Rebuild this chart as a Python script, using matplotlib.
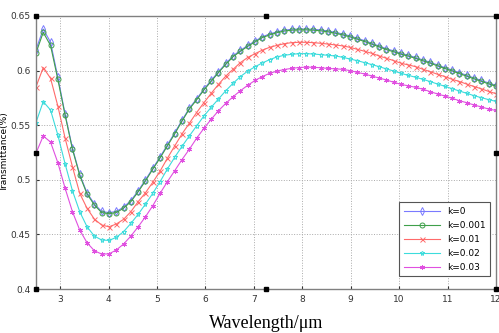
import numpy as np
import matplotlib
matplotlib.use("Agg")
import matplotlib.pyplot as plt
from matplotlib.ticker import FormatStrFormatter

# wavelength grid (um), 64 samples from 2.5 to 12
wavelength = np.linspace(2.5, 12, 64)

t_k0 = [0.619, 0.638, 0.626, 0.594, 0.560, 0.529, 0.505, 0.488, 0.478, 0.471,
        0.470, 0.471, 0.475, 0.481, 0.490, 0.500, 0.5105, 0.521, 0.532, 0.543,
        0.5545, 0.5655, 0.574, 0.583, 0.591, 0.599, 0.6065, 0.6135, 0.6185, 0.623,
        0.627, 0.631, 0.6335, 0.6355, 0.637, 0.6378, 0.6381, 0.6381, 0.6378, 0.6372,
        0.6363, 0.635, 0.6335, 0.6317, 0.6296, 0.6274, 0.625, 0.6225, 0.620, 0.618,
        0.6158, 0.614, 0.612, 0.6097, 0.6076, 0.6051, 0.6027, 0.6005, 0.598, 0.5957,
        0.5932, 0.591, 0.5886, 0.5865]

t_k001 = [0.616, 0.635, 0.623, 0.592, 0.559, 0.528, 0.504, 0.487, 0.477, 0.470,
          0.469, 0.470, 0.474, 0.480, 0.489, 0.499, 0.5097, 0.520, 0.531, 0.542,
          0.5537, 0.5647, 0.5732, 0.5822, 0.5902, 0.5982, 0.6057, 0.6127, 0.6177, 0.6222,
          0.6262, 0.6302, 0.6327, 0.6347, 0.6362, 0.637, 0.6373, 0.6373, 0.637, 0.6364,
          0.6355, 0.6342, 0.6327, 0.6309, 0.6288, 0.6266, 0.6242, 0.6217, 0.6192, 0.6172,
          0.615, 0.6132, 0.6112, 0.6089, 0.6068, 0.6043, 0.6019, 0.5997, 0.5972, 0.5949,
          0.5924, 0.5902, 0.5878, 0.5857]

t_k01 = [0.585, 0.6027, 0.593, 0.5676, 0.538, 0.512, 0.4876, 0.4739, 0.4641, 0.4586,
         0.457, 0.4595, 0.4638, 0.4708, 0.480, 0.4882, 0.4977, 0.508, 0.5197, 0.531,
         0.542, 0.5517, 0.5615, 0.5706, 0.5792, 0.5874, 0.595, 0.6012, 0.6073, 0.612,
         0.6155, 0.6187, 0.6213, 0.6231, 0.6246, 0.6256, 0.6259, 0.6259, 0.6256, 0.625,
         0.6243, 0.6235, 0.6226, 0.6213, 0.6195, 0.6177, 0.6158, 0.6134, 0.6113, 0.6091,
         0.6067, 0.6052, 0.6036, 0.6012, 0.599, 0.5966, 0.5945, 0.592, 0.590, 0.5876,
         0.5854, 0.5833, 0.5809, 0.5789]

t_k02 = [0.5523, 0.5716, 0.5639, 0.541, 0.5145, 0.490, 0.4708, 0.457, 0.4485, 0.4449,
         0.4445, 0.4473, 0.4525, 0.4601, 0.4684, 0.4778, 0.4876, 0.4983, 0.5099, 0.5206,
         0.5306, 0.5401, 0.5493, 0.5584, 0.5664, 0.574, 0.5816, 0.5884, 0.5945, 0.5995,
         0.6035, 0.607, 0.610, 0.6125, 0.614, 0.6149, 0.6155, 0.6155, 0.6152, 0.6146,
         0.614, 0.6134, 0.6122, 0.6106, 0.6091, 0.6073, 0.6055, 0.6036, 0.6015, 0.5996,
         0.5975, 0.5956, 0.5939, 0.592, 0.5899, 0.5877, 0.5856, 0.5834, 0.5813, 0.5792,
         0.577, 0.5752, 0.5734, 0.5718]

t_k03 = [0.5243, 0.5401, 0.5346, 0.5157, 0.4922, 0.4708, 0.454, 0.4424, 0.4351, 0.432,
         0.4322, 0.4357, 0.4412, 0.4485, 0.457, 0.4662, 0.4763, 0.4876, 0.4983, 0.5083,
         0.5185, 0.5279, 0.538, 0.5471, 0.5554, 0.5633, 0.570, 0.5761, 0.5816, 0.5865,
         0.591, 0.5945, 0.5975, 0.5995, 0.601, 0.602, 0.6028, 0.6032, 0.603, 0.6026,
         0.602, 0.6016, 0.6012, 0.600, 0.5984, 0.5969, 0.595, 0.5932, 0.5914, 0.5893,
         0.5874, 0.586, 0.5847, 0.5829, 0.5807, 0.5786, 0.5767, 0.5746, 0.5724, 0.5706,
         0.5685, 0.5667, 0.5648, 0.5635]

labels = ["k=0", "k=0.001", "k=0.01", "k=0.02", "k=0.03"]
series = [t_k0, t_k001, t_k01, t_k02, t_k03]
colors = ["#7a7aff", "#3fa04a", "#ff6a6a", "#3cdcdc", "#e050e0"]
markers = ["d", "o", "x", "*", (6, 2, 0)]

fig = plt.figure(figsize=(4.99, 3.33), dpi=100)
ax = fig.add_axes([0.072, 0.132, 0.922, 0.820])

for y, lab, c, m in zip(series, labels, colors, markers):
    filled = m == (6, 2, 0)
    ax.plot(wavelength, y, color=c, lw=0.8, marker=m, markersize=3.6,
            markerfacecolor=c if filled else "none", markeredgecolor=c,
            markeredgewidth=0.7, label=lab)

ax.set_xlim(2.5, 12)
ax.set_ylim(0.4, 0.65)
ax.set_xticks(range(3, 13))
ax.set_yticks([0.4, 0.45, 0.5, 0.55, 0.6, 0.65])
ax.yaxis.set_major_formatter(FormatStrFormatter("%g"))
ax.tick_params(direction="in", length=2, labelsize=6.5, colors="#333333", pad=4)
ax.grid(True, linestyle=":", color="#aaaaaa", lw=0.7)
for s in ax.spines.values():
    s.set_color("#808080")
    s.set_linewidth(1.0)

ax.set_ylabel("Transmittance(%)", fontsize=6.5)
ax.yaxis.set_label_coords(-0.058, 0.5)
ax.set_xlabel("Wavelength/\u03bcm", fontsize=13, family="Liberation Serif", labelpad=8)

# selection handles around the figure frame
hx = [0, 0.5, 1, 0, 1, 0, 0.5, 1]
hy = [0, 0, 0, 0.5, 0.5, 1, 1, 1]
ax.plot(hx, hy, ls="none", marker="s", markersize=2.5, color="black",
        transform=ax.transAxes, clip_on=False, zorder=10)

leg = ax.legend(loc="lower right", fontsize=6.5, fancybox=False, framealpha=1,
                edgecolor="#555555", handlelength=4, borderpad=0.5,
                labelspacing=0.55, bbox_to_anchor=(0.997, 0.03))
leg.get_frame().set_linewidth(0.8)

fig.savefig("out.png", dpi=100)
